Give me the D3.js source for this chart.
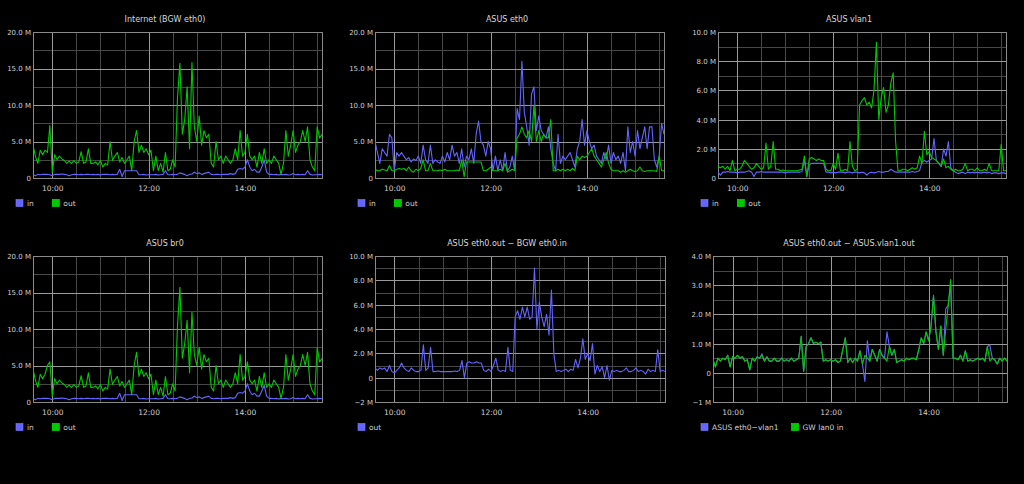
<!DOCTYPE html>
<html><head><meta charset="utf-8">
<script src="https://cdn.jsdelivr.net/npm/d3@7/dist/d3.min.js"></script>
<style>
body{margin:0;background:#000}
svg{display:block}
text{font-family:"DejaVu Sans",sans-serif;fill:#cfcfcf}
</style>
</head><body><svg id="c" width="1024" height="484"></svg>
<script>
// ---- time axis ----
const stepMinutes = 3;
const xTickHours = [10, 12, 14];
const xTickLabels = ["10:00", "12:00", "14:00"];

// ---- y tick values & labels ----
const ticks20 = [0, 5, 10, 15, 20];
const labels20 = ["0", "5.0 M", "10.0 M", "15.0 M", "20.0 M"];
const ticks10 = [0, 2, 4, 6, 8, 10];
const labels10 = ["0", "2.0 M", "4.0 M", "6.0 M", "8.0 M", "10.0 M"];
const ticksDiff = [-2, 0, 2, 4, 6, 8, 10];
const labelsDiff = ["\u22122 M", "0", "2.0 M", "4.0 M", "6.0 M", "8.0 M", "10.0 M"];
const ticksMix = [-1, 0, 1, 2, 3, 4];
const labelsMix = ["\u22121 M", "0", "1.0 M", "2.0 M", "3.0 M", "4.0 M"];

// ---- series (Mbit/s, one sample every 3 min from 09:36) ----
const inetOut = [4.5,3.0,2.0,3.8,3.2,3.8,3.5,7.2,0.8,3.2,
2.5,3.0,2.6,2.4,2.0,2.3,2.0,2.4,2.0,2.2,
3.6,2.0,2.2,4.0,2.0,2.0,2.2,1.8,2.4,1.5,
2.0,1.8,5.0,2.4,3.0,3.5,2.2,2.8,2.0,2.5,
3.0,1.0,5.0,6.5,3.5,4.5,3.5,4.0,3.2,3.8,
1.0,3.0,1.0,2.0,0.8,3.5,1.0,1.2,2.5,1.5,
11.0,15.7,6.0,8.0,12.5,4.0,15.8,7.0,5.0,8.5,
4.5,6.5,5.5,6.0,2.0,1.5,5.0,2.5,3.0,2.0,
3.0,2.5,2.0,2.5,4.0,2.5,6.5,3.0,3.5,6.0,
3.0,2.5,3.0,1.5,3.5,2.0,4.0,2.0,2.5,2.0,
3.0,2.5,2.0,0.5,2.0,6.5,3.0,4.5,6.5,3.5,
4.5,5.0,6.5,5.0,7.0,2.5,1.5,1.0,7.0,5.5,
6.0];
const inetIn = [0.5,0.3,0.5,0.45,0.5,0.5,0.5,0.45,0.3,0.5,
0.5,0.5,0.55,0.5,0.45,0.3,0.45,0.5,0.5,0.45,
0.5,0.45,0.5,0.5,0.45,0.5,0.45,0.5,0.4,0.5,
0.5,0.5,0.45,0.5,0.45,0.5,1.2,0.2,1.0,1.0,
1.0,1.0,1.0,1.0,0.45,0.45,0.5,0.4,0.45,0.45,
0.45,0.5,0.4,0.45,0.5,1.0,0.45,0.45,0.5,0.45,
0.5,0.7,0.6,0.5,0.3,0.5,0.55,0.8,0.6,0.7,
0.5,0.6,0.7,0.8,0.5,0.45,0.5,0.5,0.45,0.5,
0.5,0.5,0.6,0.5,0.6,1.2,1.3,1.2,1.5,2.5,
1.5,1.0,1.2,0.8,0.8,1.5,2.5,0.8,0.5,0.5,
0.45,0.5,0.4,0.5,0.45,0.5,0.4,0.45,0.6,0.45,
0.5,0.45,0.5,0.45,1.0,0.5,0.4,0.45,0.45,0.5,
0.45];
const eth0In = [5.0,3.5,2.0,4.0,3.5,3.0,6.0,5.5,1.0,3.5,
3.0,3.5,3.0,2.5,2.8,2.2,2.6,2.4,3.0,2.0,
4.5,2.5,2.0,4.5,2.0,2.5,2.2,2.0,3.0,2.2,
3.5,2.5,4.5,3.0,3.5,2.0,4.0,1.5,3.0,2.5,
4.0,2.0,6.0,7.8,5.0,4.5,3.0,5.0,4.0,1.0,
3.0,1.0,2.5,1.0,3.5,1.0,1.5,3.0,1.0,9.5,
8.0,16.0,9.0,7.0,4.5,11.5,12.5,6.5,8.5,6.5,
6.0,5.5,7.0,4.0,2.0,1.0,6.0,2.0,3.0,2.5,
3.0,3.5,2.5,1.5,4.0,5.0,8.0,4.5,6.5,5.0,
4.0,4.5,3.0,2.5,2.0,3.5,2.5,4.5,2.0,3.5,
2.5,3.0,2.0,3.5,1.0,7.0,3.5,5.0,3.0,6.5,
4.0,5.5,7.0,4.0,7.0,7.0,2.5,1.5,3.0,7.5,
6.0];
const eth0Out = [1.2,1.0,1.0,1.2,1.1,1.0,1.7,1.0,1.0,1.2,
1.3,1.2,1.3,1.0,1.5,1.0,0.8,1.2,1.0,1.3,
2.5,1.0,1.0,2.0,1.0,1.0,1.0,1.1,1.0,1.2,
1.0,1.0,1.0,1.0,1.1,1.0,2.5,0.2,2.2,2.2,
2.2,2.2,2.2,2.2,2.2,1.0,1.0,1.2,1.5,1.0,
1.0,1.0,1.2,1.0,2.0,0.8,1.0,1.2,1.0,5.5,
6.0,7.0,6.0,5.5,6.5,5.0,10.0,5.0,6.5,5.0,
6.0,5.5,5.5,8.0,1.0,1.0,1.2,1.0,1.2,1.0,
1.2,1.0,1.3,1.0,3.0,2.5,3.0,2.8,3.0,3.5,
4.0,3.0,2.5,2.0,1.5,2.5,3.5,2.0,1.2,1.0,
1.0,1.0,0.8,1.0,0.8,1.0,1.2,1.0,0.9,1.0,
1.5,1.0,0.9,1.0,1.0,1.0,1.0,0.9,3.0,1.0,
1.0];
const vlanIn = [0.4,0.2,0.4,0.4,0.45,0.4,0.4,0.4,0.35,0.4,
0.4,0.4,0.45,0.5,0.4,0.1,0.4,0.4,0.45,0.4,
0.4,0.4,0.4,0.4,0.4,0.4,0.4,0.4,0.35,0.4,
0.4,0.4,0.4,0.4,0.4,0.45,1.2,0.1,0.9,1.0,
1.0,1.0,1.0,1.0,1.0,0.4,0.4,0.35,0.4,0.35,
0.4,0.4,0.4,0.35,0.4,0.4,0.35,0.4,0.4,0.35,
0.4,0.35,0.2,0.35,0.4,0.35,0.4,0.45,0.4,0.4,
0.45,0.45,0.6,0.5,0.4,0.4,0.4,0.4,0.4,0.4,
0.4,0.45,0.4,0.45,0.5,1.1,1.2,1.1,1.2,1.3,
2.7,1.2,1.0,0.8,2.0,1.5,2.5,0.7,0.5,0.4,
0.3,0.35,0.4,0.3,0.4,0.35,0.4,0.35,0.4,0.35,
0.35,0.4,0.35,0.4,0.3,0.35,0.35,0.3,0.35,0.35,
0.3];
const vlanOut = [0.8,0.7,0.8,0.6,0.8,0.5,1.2,0.5,0.6,0.6,
0.8,1.2,1.0,0.8,0.6,0.7,1.0,0.8,0.6,0.7,
2.4,0.6,0.8,2.5,0.6,0.6,0.5,0.55,0.5,0.5,
0.5,0.5,0.5,0.5,0.55,0.6,1.5,0.1,1.3,1.4,
1.3,1.2,1.3,1.2,1.2,0.6,0.5,0.5,1.0,0.6,
1.7,0.5,0.5,0.6,0.5,2.5,0.8,0.5,0.6,5.0,
5.3,5.5,5.0,5.2,4.8,6.0,9.3,4.0,5.5,6.2,
4.5,5.0,6.5,7.2,2.5,0.5,0.5,0.6,0.6,0.5,
0.6,0.7,0.6,0.7,1.5,1.0,3.2,1.6,1.8,1.4,
1.3,1.2,1.0,0.8,1.3,0.7,0.8,0.6,0.5,0.6,
0.5,0.5,0.6,1.0,0.5,0.6,0.6,0.5,0.7,0.5,
0.5,0.6,0.5,1.0,0.5,0.5,0.5,0.5,2.3,0.5,
0.5];
const br0In = [0.5,0.3,0.5,0.45,0.5,0.5,0.5,0.45,0.3,0.5,
0.5,0.5,0.55,0.5,0.45,0.3,0.45,0.5,0.5,0.45,
0.5,0.45,0.5,0.5,0.45,0.5,0.45,0.5,0.4,0.5,
0.5,0.5,0.45,0.5,0.45,0.5,1.2,0.2,1.0,1.0,
1.0,1.0,1.0,1.0,0.45,0.45,0.5,0.4,0.45,0.45,
0.45,0.5,0.4,0.45,0.5,1.0,0.45,0.45,0.5,0.45,
0.5,0.7,0.6,0.5,0.3,0.5,0.55,0.8,0.6,0.7,
0.5,0.6,0.7,0.8,0.5,0.45,0.5,0.5,0.45,0.5,
0.5,0.5,0.6,0.5,0.6,1.2,1.3,1.2,1.5,2.5,
1.5,1.0,1.2,0.8,0.8,1.5,2.3,0.8,0.5,0.5,
0.45,0.5,0.4,0.5,0.45,0.5,0.4,0.45,0.6,0.45,
0.5,0.45,0.5,0.45,1.0,0.5,0.4,0.45,0.45,0.5,
0.45];
const br0Out = [4.5,3.0,2.0,3.8,3.2,3.8,5.0,5.5,0.8,3.2,
2.5,3.0,2.6,2.4,2.0,2.3,2.0,2.4,2.0,2.2,
3.6,2.0,2.2,4.0,2.0,2.0,2.2,1.8,2.4,1.5,
2.0,1.8,4.5,2.4,3.0,3.5,2.2,2.8,2.0,2.5,
3.0,1.0,5.0,6.8,3.5,4.5,3.5,4.0,3.2,3.8,
1.0,3.0,1.0,2.0,0.8,3.5,1.0,1.2,2.5,1.5,
10.5,15.7,6.0,8.0,11.2,4.0,12.3,6.5,5.0,7.5,
4.5,6.5,5.5,6.0,2.0,1.5,5.0,2.5,3.0,2.0,
3.0,2.5,2.0,2.5,4.0,2.5,6.5,3.0,3.5,5.5,
3.0,2.5,3.0,1.5,3.5,2.0,4.0,2.0,2.5,2.0,
3.0,2.5,2.0,0.5,2.0,6.5,3.0,4.5,6.5,3.5,
4.5,5.0,6.5,5.0,6.8,2.5,1.5,1.0,7.5,5.5,
6.0];
const diffOut = [0.8,0.6,0.8,0.7,0.8,0.5,1.0,0.5,0.4,0.6,
0.8,1.2,0.8,0.6,0.5,0.8,0.6,0.5,0.5,0.6,
2.7,0.6,0.8,2.5,0.5,0.5,0.55,0.5,0.5,0.5,
0.5,0.5,0.5,0.55,0.5,0.6,1.4,0.0,1.2,1.3,
1.2,1.2,1.3,1.2,1.2,0.6,0.5,0.7,0.5,1.0,
1.6,0.6,0.5,0.6,0.5,2.5,0.6,0.5,5.0,5.5,
4.8,5.8,5.0,5.8,4.8,5.0,9.0,4.0,6.2,5.0,
4.2,5.2,3.5,7.2,2.0,0.5,0.6,0.5,0.6,0.7,
0.5,0.7,0.6,1.5,0.8,1.6,3.2,1.5,2.0,1.4,
2.8,0.3,1.0,0.5,0.9,0.0,1.0,-0.2,0.6,0.5,
0.6,0.5,0.5,0.6,0.8,0.5,0.5,0.6,0.8,0.5,
0.6,0.5,0.3,0.7,0.5,0.6,0.5,2.3,0.5,0.6,
0.5];
const ethVlanDiff = [0.45,0.2,0.5,0.4,0.5,0.45,0.6,0.2,0.55,0.5,
0.6,0.5,0.55,0.4,0.45,0.1,0.5,0.4,0.55,0.5,
0.65,0.4,0.55,0.4,0.4,0.5,0.4,0.4,0.5,0.4,
0.45,0.4,0.5,0.4,0.45,0.5,1.25,0.05,0.9,1.0,
1.2,1.0,1.05,1.0,1.05,0.4,0.45,0.4,0.45,0.4,
0.45,0.35,0.4,0.8,1.2,0.35,0.5,0.35,0.5,0.4,
0.75,0.3,-0.3,1.1,0.4,0.8,0.6,0.4,0.8,0.6,
0.5,1.4,0.9,0.6,0.8,0.35,0.4,0.45,0.4,0.5,
0.45,0.5,0.5,0.45,0.8,1.2,1.0,1.4,1.1,1.6,
2.65,1.4,0.8,1.6,0.6,2.2,2.3,3.0,0.5,0.5,
0.45,0.6,0.4,0.75,0.4,0.45,0.4,0.45,0.5,0.45,
0.5,0.4,0.9,0.95,0.5,0.45,0.3,0.5,0.4,0.5,
0.4];
const gwLanIn = [0.45,0.2,0.5,0.4,0.5,0.45,0.6,0.2,0.55,0.5,
0.6,0.5,0.55,0.4,0.45,0.1,0.5,0.4,0.55,0.5,
0.6,0.4,0.55,0.4,0.4,0.5,0.4,0.4,0.5,0.4,
0.45,0.4,0.5,0.4,0.45,0.5,1.25,0.05,0.9,1.0,
1.2,1.0,1.05,1.0,1.05,0.4,0.45,0.4,0.45,0.4,
0.45,0.35,0.4,0.8,1.2,0.35,0.5,0.35,0.5,0.4,
0.75,0.3,0.6,0.5,0.4,0.8,0.6,0.4,0.8,0.6,
0.5,0.4,0.9,0.6,0.8,0.35,0.4,0.45,0.4,0.5,
0.45,0.5,0.5,0.45,0.8,1.2,1.0,1.4,1.1,1.6,
2.65,1.4,0.8,1.6,0.6,1.5,2.3,3.2,0.5,0.5,
0.45,0.6,0.4,0.75,0.4,0.45,0.4,0.45,0.5,0.45,
0.5,0.4,0.9,0.4,0.5,0.45,0.3,0.5,0.4,0.5,
0.4];

const BLUE = "#6464ff", GREEN = "#00c800";

const panels = [
  {title:"Internet (BGW eth0)", col:0, row:0, l:33, r:322, ticks:ticks20, labels:labels20, legendX:16,
   series:[{name:"in", values:inetIn, color:BLUE},{name:"out", values:inetOut, color:GREEN}]},
  {title:"ASUS eth0", col:1, row:0, l:375, r:664, ticks:ticks20, labels:labels20, legendX:358,
   series:[{name:"in", values:eth0In, color:BLUE},{name:"out", values:eth0Out, color:GREEN}]},
  {title:"ASUS vlan1", col:2, row:0, l:718, r:1006, ticks:ticks10, labels:labels10, legendX:701,
   series:[{name:"in", values:vlanIn, color:BLUE},{name:"out", values:vlanOut, color:GREEN}]},
  {title:"ASUS br0", col:0, row:1, l:33, r:322, ticks:ticks20, labels:labels20, legendX:16,
   series:[{name:"in", values:br0In, color:BLUE},{name:"out", values:br0Out, color:GREEN}]},
  {title:"ASUS eth0.out \u2212 BGW eth0.in", col:1, row:1, l:375, r:665, ticks:ticksDiff, labels:labelsDiff, legendX:358,
   series:[{name:"out", values:diffOut, color:BLUE}]},
  {title:"ASUS eth0.out \u2212 ASUS.vlan1.out", col:2, row:1, l:713, r:1007, ticks:ticksMix, labels:labelsMix, legendX:701,
   series:[{name:"ASUS eth0\u2212vlan1", values:ethVlanDiff, color:BLUE},{name:"GW lan0 in", values:gwLanIn, color:GREEN}]}
];

const svg = d3.select("#c");
svg.append("rect").attr("width",1024).attr("height",484).attr("fill","#000");

const t0 = new Date(2020, 0, 1, 9, 36);
const t1 = d3.timeMinute.offset(t0, 360);
const ROW_H = 224;

panels.forEach((p, pi) => {
  const oy = p.row * ROW_H;
  const top = 32 + oy, bottom = 178 + oy;
  const g = svg.append("g");
  const x = d3.scaleTime().domain([t0, t1]).range([p.l, p.r]);
  const y = d3.scaleLinear().domain([p.ticks[0], p.ticks[p.ticks.length-1]]).range([bottom, top]);

  // title
  g.append("text").attr("x", 165 + 342*p.col).attr("y", 21.5 + oy)
    .attr("text-anchor","middle").style("font-size","8px").style("fill","#d8d8d8").text(p.title);

  // minor grid
  const minorY = d3.pairs(p.ticks).map(([a,b]) => (a+b)/2);
  const minorX = d3.timeMinute.every(30).range(t0, t1).filter(d => d > t0);
  const grid = g.append("g").attr("shape-rendering","crispEdges");
  grid.selectAll(".mnx").data(minorX).join("line")
    .attr("x1", d => Math.round(x(d))+0.5).attr("x2", d => Math.round(x(d))+0.5)
    .attr("y1", top).attr("y2", bottom).attr("stroke","#474747");
  grid.selectAll(".mny").data(minorY).join("line")
    .attr("x1", p.l).attr("x2", p.r)
    .attr("y1", d => Math.round(y(d))+0.5).attr("y2", d => Math.round(y(d))+0.5).attr("stroke","#474747");
  // major grid
  const majorX = xTickHours.map(h => new Date(2020,0,1,h,0));
  grid.selectAll(".mjx").data(majorX).join("line")
    .attr("x1", d => Math.round(x(d))+0.5).attr("x2", d => Math.round(x(d))+0.5)
    .attr("y1", top).attr("y2", bottom).attr("stroke","#9a9a9a");
  grid.selectAll(".mjy").data(p.ticks).join("line")
    .attr("x1", p.l).attr("x2", p.r)
    .attr("y1", d => Math.round(y(d))+0.5).attr("y2", d => Math.round(y(d))+0.5).attr("stroke","#9a9a9a");
  grid.append("rect").attr("x", p.l+0.5).attr("y", top+0.5).attr("width", p.r-p.l).attr("height", bottom-top)
    .attr("fill","none").attr("stroke","#8a8a8a");

  // axes labels
  const yAxis = d3.axisLeft(y).tickValues(p.ticks).tickFormat((d,i) => p.labels[i]).tickSize(0).tickPadding(2);
  const ya = g.append("g").attr("transform", `translate(${p.l},0)`).call(yAxis);
  ya.select(".domain").remove();
  ya.selectAll("text").style("font-size","7px").style("font-family","DejaVu Sans").attr("fill","#cfcfcf").attr("dy","0.35em");
  const xAxis = d3.axisBottom(x).tickValues(majorX).tickFormat((d,i) => xTickLabels[i]).tickSize(0).tickPadding(8);
  const xa = g.append("g").attr("transform", `translate(0,${bottom})`).call(xAxis);
  xa.select(".domain").remove();
  xa.selectAll("text").style("font-size","7.5px").style("font-family","DejaVu Sans").attr("fill","#cfcfcf");

  // series
  const clipId = "clip"+pi;
  svg.append("clipPath").attr("id", clipId).append("rect")
    .attr("x", p.l).attr("y", top).attr("width", p.r-p.l).attr("height", bottom-top);
  const line = d3.line().x((d,i) => x(d3.timeMinute.offset(t0, i*stepMinutes))).y(d => y(d));
  p.series.forEach(s => {
    g.append("path").attr("clip-path", `url(#${clipId})`).attr("d", line(s.values))
      .attr("fill","none").attr("stroke", s.color).attr("stroke-width", 1.1).attr("stroke-linejoin","round");
  });

  // legend
  const lg = g.append("g");
  const items = p.series.map(s => {
    const it = lg.append("g");
    it.append("rect").attr("width",7).attr("height",7).attr("y", 199.5 + oy).attr("fill", s.color)
      .attr("stroke", d3.color(s.color).brighter(0.6)).attr("stroke-width",0.6);
    it.append("text").attr("x", 11).attr("y", 206 + oy).style("font-size","7.5px").text(s.name);
    return it;
  });
  const maxW = d3.max(items, it => it.select("text").node().getComputedTextLength());
  items.forEach((it, i) => it.attr("transform", `translate(${p.legendX + i*(11 + maxW + 13)},0)`));
});
</script>
</body></html>
